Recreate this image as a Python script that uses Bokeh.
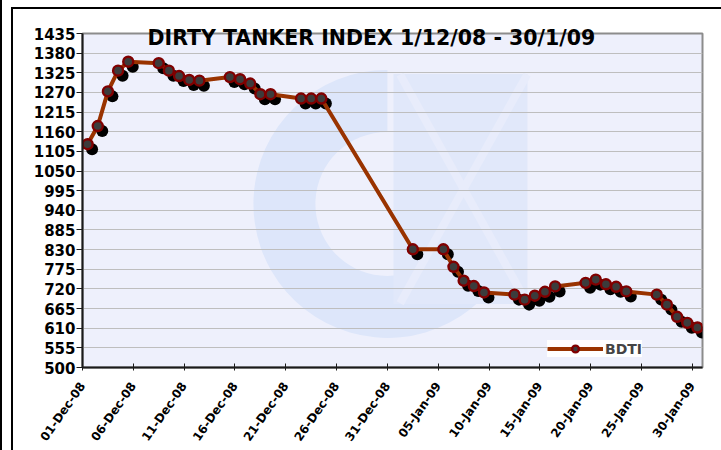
import math
import pandas as pd
from bokeh.plotting import figure
from bokeh.models import (ColumnDataSource, FixedTicker, DatetimeTickFormatter,
                          Legend, LegendItem, Title, Range1d)
from bokeh.transform import dodge
from bokeh.embed import file_html
from bokeh.resources import INLINE

# ---------------- data ----------------
title_text = "DIRTY TANKER INDEX 1/12/08 - 30/1/09"
series_name = "BDTI"
dates = ["2008-11-28",
         "2008-12-01", "2008-12-02", "2008-12-03", "2008-12-04", "2008-12-05",
         "2008-12-08", "2008-12-09", "2008-12-10", "2008-12-11", "2008-12-12",
         "2008-12-15", "2008-12-16", "2008-12-17", "2008-12-18", "2008-12-19",
         "2008-12-22", "2008-12-23", "2008-12-24",
         "2009-01-02",
         "2009-01-05", "2009-01-06", "2009-01-07", "2009-01-08", "2009-01-09",
         "2009-01-12", "2009-01-13", "2009-01-14", "2009-01-15", "2009-01-16",
         "2009-01-19", "2009-01-20", "2009-01-21", "2009-01-22", "2009-01-23",
         "2009-01-26", "2009-01-27", "2009-01-28", "2009-01-29", "2009-01-30"]
bdti = [1069,
        1125, 1176, 1273, 1331, 1356,
        1352, 1331, 1316, 1305, 1303,
        1313, 1307, 1295, 1265, 1265,
        1253, 1253, 1253,
        831,
        831, 782, 743, 728, 710,
        704, 690, 701, 712, 727,
        737, 746, 733, 726, 713,
        704, 676, 642, 625, 612]
x_tick_dates = ["2008-12-01", "2008-12-06", "2008-12-11", "2008-12-16", "2008-12-21",
                "2008-12-26", "2008-12-31", "2009-01-05", "2009-01-10", "2009-01-15",
                "2009-01-20", "2009-01-25", "2009-01-30"]
y_ticks = [500, 555, 610, 665, 720, 775, 830, 885, 940, 995, 1050, 1105,
           1160, 1215, 1270, 1325, 1380, 1435]
x_start, x_end = "2008-12-01", "2009-01-31"

# ---------------- styling ----------------
FONT = "DejaVu Sans"
LINE_COLOR = "#993300"
MARKER_FILL = "#3C3C3C"
MARKER_LINE = "#800000"
BG = "#EEF0FC"

# page-like frame lines drawn by CSS behind a transparent canvas border
page_bg = ("linear-gradient(#000,#000) 0px 0px / 2px 100% no-repeat, "
           "linear-gradient(#000,#000) 11px 7px / 2px 100% no-repeat, "
           "linear-gradient(#000,#000) 11px 7px / 100% 2px no-repeat, #ffffff")

# points sit in the middle of their day (category centred between ticks)
xs = pd.to_datetime(dates) + pd.Timedelta(hours=12)
src = ColumnDataSource(dict(x=xs, y=bdti))

p = figure(x_axis_type="datetime", frame_width=620, frame_height=334,
           min_border_left=82, min_border_top=33, min_border_right=19,
           min_border_bottom=78, output_backend="svg", toolbar_location=None,
           x_range=Range1d(pd.Timestamp(x_start), pd.Timestamp(x_end)),
           y_range=Range1d(y_ticks[0], y_ticks[-1]),
           background_fill_color=BG, border_fill_color="white", border_fill_alpha=0,
           outline_line_color="#8C8C8C", outline_line_width=2,
           styles={"background": page_bg})

# faint watermark logo (decoration)
wm_x = [pd.Timestamp("2008-12-31")]
wm_y = [958]
p.annular_wedge(x=wm_x, y=wm_y, inner_radius=72, outer_radius=134,
                inner_radius_units="screen", outer_radius_units="screen",
                start_angle=math.radians(90), end_angle=math.radians(352),
                fill_color="#DDE6FA", line_color=None, level="image")
sq_x = [pd.Timestamp("2009-01-07 04:30")]
sq_y = [1000]
p.rect(x=sq_x, y=sq_y, width=134, height=230, width_units="screen",
       height_units="screen", fill_color="#E1E8FA", line_color=None, level="image")
p.segment(x0=[pd.Timestamp("2009-01-01 06:00"), pd.Timestamp("2009-01-01 06:00")],
          y0=[1320, 680], x1=[pd.Timestamp("2009-01-13 18:00"), pd.Timestamp("2009-01-13 18:00")],
          y1=[680, 1320], line_color="#E8ECFB", line_width=8, level="image")

# shadows, line, markers
shadow = p.scatter(x=dodge("x", 0.4427 * 86400000, range=p.x_range),
                   y=dodge("y", -14, range=p.y_range), source=src,
                   size=12, fill_color="black", line_color=None)
line = p.line("x", "y", source=src, line_color=LINE_COLOR, line_width=4)
marks = p.scatter("x", "y", source=src, size=10, fill_color=MARKER_FILL,
                  line_color=MARKER_LINE, line_width=2.4)

# axes
p.xaxis.ticker = FixedTicker(ticks=[pd.Timestamp(d).value // 10**6 for d in x_tick_dates])
p.xaxis.formatter = DatetimeTickFormatter(days="%d-%b-%y", months="%d-%b-%y",
                                          years="%d-%b-%y", hours="%d-%b-%y")
p.yaxis.ticker = FixedTicker(ticks=y_ticks)
for ax in (p.xaxis[0], p.yaxis[0]):
    ax.axis_line_color = "#1A1A1A"
    ax.axis_line_width = 2
    ax.major_tick_line_color = "#1A1A1A"
    ax.major_tick_line_width = 1
    ax.minor_tick_line_color = None
    ax.major_label_text_font = FONT
    ax.major_label_text_font_style = "bold"
    ax.major_label_text_color = "black"
p.yaxis.major_label_text_font_size = "15px"
p.yaxis.major_tick_out = 6
p.yaxis.major_tick_in = 0
p.yaxis.major_label_standoff = 1
p.xaxis.major_label_text_font_size = "12px"
p.xaxis.major_label_orientation = math.radians(55)
p.xaxis.major_tick_out = 3
p.xaxis.major_tick_in = 4
p.xaxis.major_label_standoff = 13

p.xgrid.grid_line_color = None
p.ygrid.ticker = FixedTicker(ticks=y_ticks)
p.ygrid.grid_line_color = "#BEBEBE"
p.ygrid.grid_line_width = 1

# title overlapping the top of the plot area
p.title = Title(text=title_text, align="left", offset=65, standoff=-33,
                text_font=FONT, text_font_style="bold", text_font_size="20.5px",
                text_color="black")

legend = Legend(items=[LegendItem(label=series_name, renderers=[line, marks])],
                location=(465, 10), background_fill_color="white", background_fill_alpha=1,
                border_line_color=None, label_text_font=FONT, label_text_font_style="bold",
                label_text_font_size="14px", glyph_width=56, glyph_height=17,
                padding=3, margin=0, spacing=0, label_standoff=2)
p.add_layout(legend)

open("out.html", "w").write(file_html(p, INLINE))
